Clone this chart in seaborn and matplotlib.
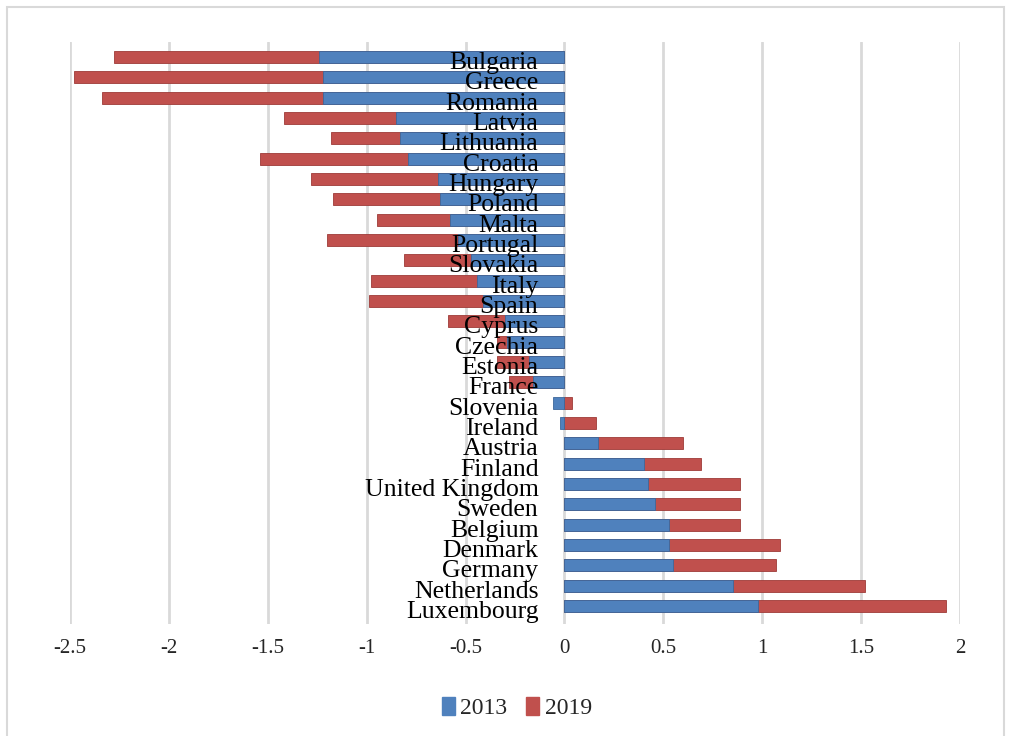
import numpy as np
import pandas as pd
import matplotlib
matplotlib.use("Agg")
import matplotlib.pyplot as plt
import matplotlib.patches as mpatches
import seaborn as sns

countries = ["Bulgaria", "Greece", "Romania", "Latvia", "Lithuania", "Croatia",
             "Hungary", "Poland", "Malta", "Portugal", "Slovakia", "Italy", "Spain",
             "Cyprus", "Czechia", "Estonia", "France", "Slovenia", "Ireland",
             "Austria", "Finland", "United Kingdom", "Sweden", "Belgium",
             "Denmark", "Germany", "Netherlands", "Luxembourg"]
v2013 = [-1.24, -1.22, -1.22, -0.85, -0.83, -0.79, -0.64, -0.63, -0.58, -0.54,
         -0.47, -0.44, -0.41, -0.30, -0.29, -0.18, -0.16, -0.06, -0.02,
         0.17, 0.40, 0.42, 0.46, 0.53, 0.53, 0.55, 0.85, 0.98]
v2019 = [-1.04, -1.26, -1.12, -0.57, -0.35, -0.75, -0.64, -0.54, -0.37, -0.66,
         -0.34, -0.54, -0.58, -0.29, -0.05, -0.16, -0.12, 0.04, 0.16,
         0.43, 0.29, 0.47, 0.43, 0.36, 0.56, 0.52, 0.67, 0.95]
years = ["2013", "2019"]
xticks = [-2.5, -2, -1.5, -1, -0.5, 0, 0.5, 1, 1.5, 2]

blue = "#4F81BD"
red = "#C0504D"

a13 = np.array(v2013)
a19 = np.array(v2019)
# end of the stacked 2019 segment (Excel stacks negatives and positives separately)
red_end = np.where(np.sign(a13) == np.sign(a19), a13 + a19, a19)

df = pd.DataFrame({"country": countries, "y2013": a13, "red_end": red_end})

sns.set_style("white")
plt.rcParams["font.family"] = ["Liberation Serif", "DejaVu Serif"]

fig = plt.figure(figsize=(10.11, 7.36), dpi=100)
ax = fig.add_axes([70 / 1011, 1 - 624 / 736, 890 / 1011, (624 - 42) / 736])

sns.barplot(data=df, x="red_end", y="country", order=countries, orient="h",
            color=red, saturation=1, width=0.58, ax=ax,
            edgecolor="#9E3B38", linewidth=0.6)
sns.barplot(data=df, x="y2013", y="country", order=countries, orient="h",
            color=blue, saturation=1, width=0.58, ax=ax,
            edgecolor="#3C679B", linewidth=0.6)

ax.set_xlim(-2.5, 2)
ax.set_ylim(-0.74 + 582 / 20.33, -0.74)
ax.set_xticks(xticks)
ax.set_xticklabels([f"{t:g}" for t in xticks], fontsize=15)
ax.tick_params(axis="x", length=0, pad=11)
ax.set_yticks([])
ax.set_xlabel("")
ax.set_ylabel("")
for s in ax.spines.values():
    s.set_visible(False)
ax.grid(axis="x", color="#D9D9D9", linewidth=2)
ax.set_axisbelow(True)

for i, c in enumerate(countries):
    ax.annotate(c, xy=(0, i), xytext=(-26, -6), textcoords="offset pixels",
                ha="right", va="center", fontsize=18.5, color="black", zorder=5)

handles = [mpatches.Patch(color=blue, label=years[0]),
           mpatches.Patch(color=red, label=years[1])]
fig.legend(handles=handles, loc="center", bbox_to_anchor=(517 / 1011, 1 - 708 / 736),
           ncol=2, frameon=False, fontsize=17, handlelength=0.55, handleheight=0.8,
           handletextpad=0.25, columnspacing=0.8)

fig.patches.append(mpatches.Rectangle((7 / 1011, -0.01), (1004 - 7) / 1011, 1 - 7 / 736 + 0.01,
                                      transform=fig.transFigure, fill=False,
                                      edgecolor="#D9D9D9", linewidth=1.5))

fig.savefig("out.png", dpi=100)
